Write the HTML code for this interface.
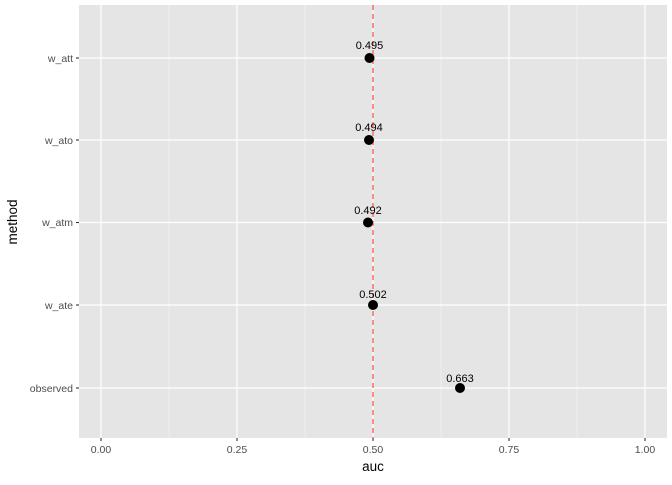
<!DOCTYPE html><html><head><style>body{margin:0;background:#fff}</style></head><body>
<svg width="672" height="480" xmlns="http://www.w3.org/2000/svg" font-family="Liberation Sans, sans-serif">
<rect x="79" y="5" width="588" height="433" fill="#e5e5e5"/>
<g stroke="#f2f2f2" stroke-width="0.8">
<line x1="169" x2="169" y1="5" y2="438"/><line x1="305" x2="305" y1="5" y2="438"/><line x1="441" x2="441" y1="5" y2="438"/><line x1="577" x2="577" y1="5" y2="438"/>
</g>
<g stroke="#fff" stroke-width="1.2">
<line x1="101" x2="101" y1="5" y2="438"/><line x1="237" x2="237" y1="5" y2="438"/><line x1="373" x2="373" y1="5" y2="438"/><line x1="509" x2="509" y1="5" y2="438"/><line x1="645" x2="645" y1="5" y2="438"/>
<line x1="79" x2="667" y1="58" y2="58"/><line x1="79" x2="667" y1="140" y2="140"/><line x1="79" x2="667" y1="222.5" y2="222.5"/><line x1="79" x2="667" y1="305" y2="305"/><line x1="79" x2="667" y1="388" y2="388"/>
</g>
<line x1="373" x2="373" y1="5" y2="438" stroke="#f8766d" stroke-width="1.6" stroke-dasharray="5,4"/>
<g fill="#000">
<circle cx="369.5" cy="58" r="5"/><circle cx="369" cy="140" r="5"/><circle cx="368" cy="222.5" r="5"/><circle cx="373" cy="305" r="5"/><circle cx="460" cy="388" r="5"/>
</g>
<g font-size="11" text-anchor="middle" fill="#000">
<text x="369.5" y="49">0.495</text><text x="369" y="131">0.494</text><text x="368" y="214">0.492</text><text x="373" y="298">0.502</text><text x="460" y="382">0.663</text>
</g>
<g stroke="#333" stroke-width="1.1">
<line x1="76" x2="79" y1="58" y2="58"/><line x1="76" x2="79" y1="140" y2="140"/><line x1="76" x2="79" y1="222.5" y2="222.5"/><line x1="76" x2="79" y1="305" y2="305"/><line x1="76" x2="79" y1="388" y2="388"/>
<line x1="101" x2="101" y1="438" y2="441"/><line x1="237" x2="237" y1="438" y2="441"/><line x1="373" x2="373" y1="438" y2="441"/><line x1="509" x2="509" y1="438" y2="441"/><line x1="645" x2="645" y1="438" y2="441"/>
</g>
<g font-size="10.5" fill="#4d4d4d" text-anchor="end">
<text x="73" y="62">w_att</text><text x="73" y="144">w_ato</text><text x="73" y="226">w_atm</text><text x="73" y="309">w_ate</text><text x="73" y="392">observed</text>
</g>
<g font-size="10.5" fill="#4d4d4d" text-anchor="middle">
<text x="101" y="453">0.00</text><text x="237" y="453">0.25</text><text x="373" y="453">0.50</text><text x="509" y="453">0.75</text><text x="645" y="453">1.00</text>
</g>
<text x="373" y="471" font-size="13.5" text-anchor="middle">auc</text>
<text transform="translate(17,222) rotate(-90)" font-size="13.5" text-anchor="middle">method</text>
</svg></body></html>
